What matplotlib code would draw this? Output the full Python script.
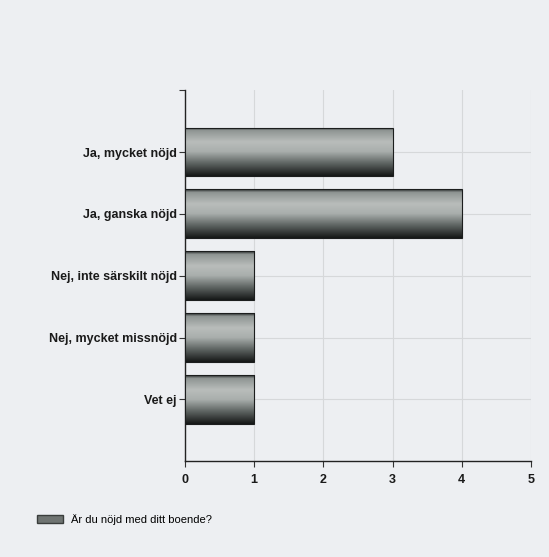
import numpy as np
import matplotlib
matplotlib.use('Agg')
import matplotlib.pyplot as plt
from matplotlib.colors import LinearSegmentedColormap
from matplotlib.patches import Patch

# svarsalternativ och antal svar
kategorier = ['Ja, mycket nöjd', 'Ja, ganska nöjd', 'Nej, inte särskilt nöjd',
              'Nej, mycket missnöjd', 'Vet ej']
antal = [3, 4, 1, 1, 1]
xticks = [0, 1, 2, 3, 4, 5]
serie_namn = 'Är du nöjd med ditt boende?'

plt.rcParams['font.family'] = ['Liberation Sans', 'DejaVu Sans']

fig = plt.figure(figsize=(5.49, 5.57), dpi=100)
fig.patch.set_facecolor('#edeff2')
ax = fig.add_axes([0.337, 0.172, 0.63, 0.666])
ax.set_facecolor('#edeff2')

ypos = len(kategorier) - 1 - np.arange(len(kategorier))
bars = ax.barh(ypos, antal, height=0.79, color='#8a8e8c', edgecolor='#1c1e1e',
               linewidth=0.8, zorder=3)

# gradient i staplarna, mörk nertill
grad_cmap = LinearSegmentedColormap.from_list('bar', [
    (0.0, '#2c302f'), (0.06, '#8e9492'), (0.3, '#b9bdbb'), (0.5, '#a9aeac'),
    (0.75, '#5c6260'), (1.0, '#161818')])
grad = np.linspace(0, 1, 100).reshape(-1, 1)
for b in bars:
    x0, y0 = b.get_x(), b.get_y()
    w, h = b.get_width(), b.get_height()
    im = ax.imshow(grad, cmap=grad_cmap, aspect='auto', origin='upper',
                   extent=(x0, x0 + w, y0, y0 + h), zorder=3.5)
    im.set_clip_path(b)
    b.set_facecolor('none')
    b.set_zorder(4)

ax.set_xlim(0, 5)
ax.set_ylim(-1, 5)
ax.set_xticks(xticks)
ax.set_yticks(ypos)
ax.set_yticklabels(kategorier)
ax.set_yticks([5], minor=True)
ax.grid(True, color='#d6d8da', linewidth=0.8, zorder=0)
ax.set_axisbelow(True)

for s in ['top', 'right']:
    ax.spines[s].set_visible(False)
for s in ['left', 'bottom']:
    ax.spines[s].set_color('#222222')
    ax.spines[s].set_linewidth(1.0)
ax.tick_params(axis='both', which='both', length=4, width=0.8, color='#333333',
               labelsize=9, labelcolor='#1a1a1a', pad=2)
ax.tick_params(axis='x', pad=5)
for lbl in ax.get_xticklabels() + ax.get_yticklabels():
    lbl.set_fontweight('bold')

fig.legend(handles=[Patch(facecolor='#6f7472', edgecolor='#3a3d3c', label=serie_namn)],
           loc='lower left', bbox_to_anchor=(0.05, 0.04), frameon=False,
           fontsize=8, handlelength=2.3, handleheight=0.8, handletextpad=0.7)

fig.savefig('out.png', dpi=100, facecolor=fig.get_facecolor())
